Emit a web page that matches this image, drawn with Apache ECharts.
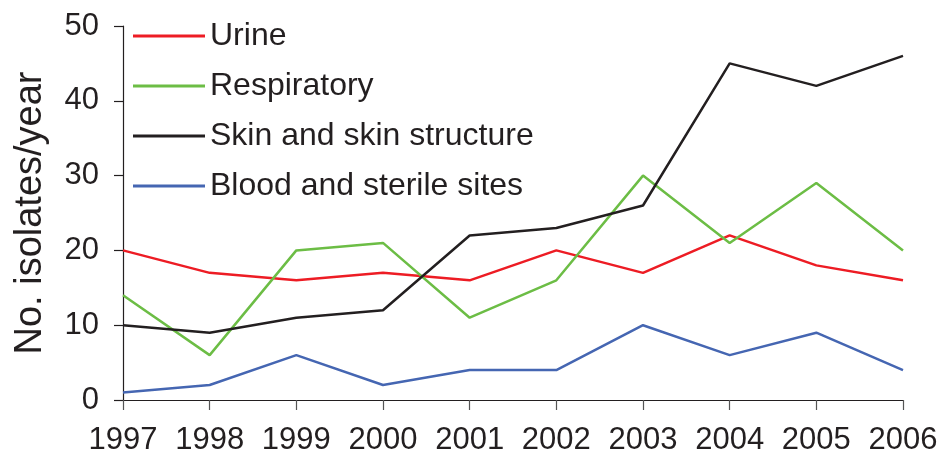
<!DOCTYPE html>
<html><head><meta charset="utf-8">
<script src="https://cdn.jsdelivr.net/npm/echarts@6/dist/echarts.min.js"></script>
<style>html,body{margin:0;padding:0;background:#fff}#c{width:941px;height:463px}</style>
</head><body><div id="c"></div>
<script>
const years = ['1997','1998','1999','2000','2001','2002','2003','2004','2005','2006'];
const urine = [20, 17, 16, 17, 16, 20, 17, 22, 18, 16];
const respiratory = [14, 6, 20, 21, 11, 16, 30, 21, 29, 20];
const skin = [10, 9, 11, 12, 22, 23, 26, 45, 42, 46];
const blood = [1, 2, 6, 2, 4, 4, 10, 6, 9, 4];
const names = ['Urine', 'Respiratory', 'Skin and skin structure', 'Blood and sterile sites'];
const colors = ['#ed1c24', '#6cbd45', '#231f20', '#4566b2'];
const seriesData = [urine, respiratory, skin, blood];

const chart = echarts.init(document.getElementById('c'), null, {renderer: 'canvas'});
chart.setOption({
  animation: false,
  backgroundColor: '#fff',
  grid: {left: 123, right: 38, top: 26, bottom: 63, containLabel: false},
  legend: {
    orient: 'vertical', left: 133, top: 20, padding: 0,
    itemWidth: 72, itemHeight: 3, itemGap: 18,
    icon: 'rect',
    textStyle: {fontFamily: 'Liberation Sans', fontSize: 32, color: '#231f20', lineHeight: 32},
    data: names
  },
  xAxis: {
    type: 'category', data: years, boundaryGap: false,
    axisLine: {lineStyle: {color: '#231f20', width: 1.2}},
    axisTick: {length: 10, interval: 0, lineStyle: {color: '#555', width: 1.2}},
    axisLabel: {interval: 0, fontFamily: 'Liberation Sans', fontSize: 31, color: '#231f20', margin: 25}
  },
  yAxis: {
    type: 'value', min: 0, max: 50, interval: 10,
    name: 'No. isolates/year', nameLocation: 'middle', nameGap: 73,
    nameTextStyle: {fontFamily: 'Liberation Sans', fontSize: 38, color: '#231f20'},
    splitLine: {show: false},
    axisLine: {show: true, lineStyle: {color: '#231f20', width: 1.2}},
    axisTick: {show: true, length: 9, lineStyle: {color: '#231f20', width: 1.2}},
    axisLabel: {fontFamily: 'Liberation Sans', fontSize: 31, color: '#231f20', margin: 24}
  },
  series: names.map((n, i) => ({
    name: n, type: 'line', data: seriesData[i],
    symbol: 'none', color: colors[i],
    lineStyle: {color: colors[i], width: 2.5}
  }))
});
</script></body></html>
